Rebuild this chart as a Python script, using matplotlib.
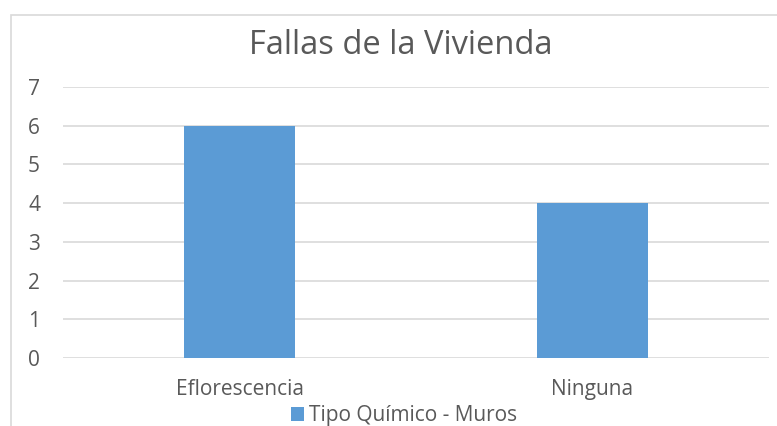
import matplotlib
matplotlib.use("Agg")
import matplotlib.pyplot as plt
from matplotlib.patches import Rectangle

categories = ["Eflorescencia", "Ninguna"]
values = [6, 4]
series_name = "Tipo Químico - Muros"
title = "Fallas de la Vivienda"
yticks = [0, 1, 2, 3, 4, 5, 6, 7]

W, H = 777, 426
fig = plt.figure(figsize=(W / 100, H / 100), dpi=100)
plt.rcParams['font.family'] = ['Open Sans', 'DejaVu Sans']

# chart border
fig.patches.append(Rectangle((11 / W, 1 - 500 / H), 900 / W, (500 - 15) / H,
                             transform=fig.transFigure, fill=False,
                             edgecolor="#D9D9D9", linewidth=1.2))

left, right, top, bottom = 63, 769, 87, 358
ax = fig.add_axes([left / W, 1 - bottom / H, (right - left) / W, (bottom - top) / H])
text_color = "#595959"
x = list(range(len(categories)))
bars = ax.bar(x, values, width=0.314, color="#5B9BD5", label=series_name, zorder=3)
ax.set_xlim(-0.5, len(categories) - 0.5)
ax.set_ylim(0, 7)
ax.set_yticks(yticks)
ax.set_yticklabels([str(t) for t in yticks], fontsize=15, color=text_color)
ax.set_xticks(x)
ax.set_xticklabels(categories, fontsize=15, color=text_color)
ax.tick_params(axis="both", length=0)
ax.tick_params(axis="y", pad=16.5)
ax.tick_params(axis="x", pad=15)
ax.grid(axis="y", color="#D9D9D9", linewidth=1.2, zorder=0)
for s in ax.spines.values():
    s.set_visible(False)

fig.text(401 / W, 1 - 54 / H, title, ha="center", va="baseline", fontsize=23.5, color=text_color)

fig.legend(handles=[bars], labels=[series_name], loc="center", bbox_to_anchor=(404 / W, 1 - 416 / H),
           frameon=False, fontsize=15, labelcolor=text_color, handlelength=0.62, handleheight=0.62,
           handletextpad=0.25, borderpad=0)

fig.savefig("out.png", dpi=100)
